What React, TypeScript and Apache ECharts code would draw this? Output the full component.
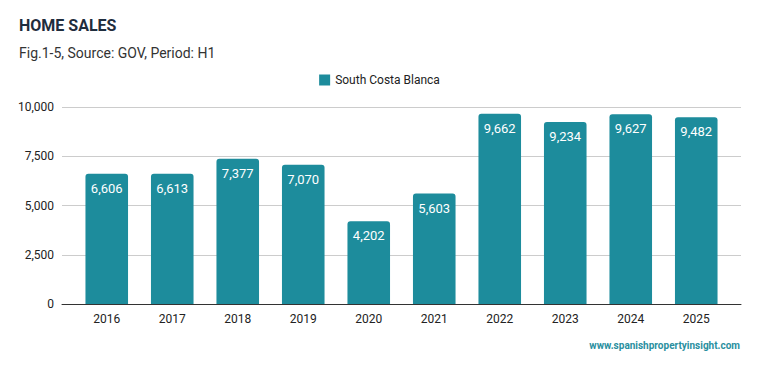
import React, { useEffect, useRef } from "react";
import * as echarts from "echarts";

const categories = ["2016", "2017", "2018", "2019", "2020", "2021", "2022", "2023", "2024", "2025"];
const salesValues = [6606, 6613, 7377, 7070, 4202, 5603, 9662, 9234, 9627, 9482];
const seriesName = "South Costa Blanca";
const titleText = "HOME SALES";
const subtitleText = "Fig.1-5, Source: GOV, Period: H1";
const watermarkText = "www.spanishpropertyinsight.com";

export default function App() {
  const ref = useRef<HTMLDivElement>(null);
  useEffect(() => {
    if (!ref.current) return;
    const chart = echarts.init(ref.current, null, { renderer: "svg" });
    const fmt = (v: number) => Number(v).toLocaleString("en-US");
    chart.setOption({
      animation: false,
      textStyle: { fontFamily: "Roboto" },
      title: [
        {
          text: titleText,
          left: 19,
          top: 17,
          padding: 0,
          textStyle: { fontFamily: "Roboto", fontSize: 16, fontWeight: "bold", color: "#1f2d3d" },
        },
        {
          text: subtitleText,
          left: 19,
          top: 46,
          padding: 0,
          textStyle: { fontFamily: "Roboto", fontSize: 14, fontWeight: "normal", color: "#333" },
        },
        {
          text: watermarkText,
          right: 19,
          top: 340,
          padding: 0,
          textStyle: { fontFamily: "Roboto", fontSize: 10, fontWeight: "bold", color: "#2a8fa0" },
        },
      ],
      legend: {
        top: 69,
        left: "center",
        itemWidth: 11,
        itemHeight: 11,
        itemGap: 10,
        icon: "rect",
        textStyle: { fontFamily: "Roboto", fontSize: 12, color: "#222" },
        data: [seriesName],
      },
      grid: [
        { left: 62, right: 18, top: 107, bottom: 67, containLabel: false },
        { left: 74, right: 30, top: 107, bottom: 67, containLabel: false },
      ],
      xAxis: [
        {
          type: "category",
          gridIndex: 0,
          data: categories,
          axisTick: { show: false },
          axisLabel: { show: false },
          axisLine: { lineStyle: { color: "#333", width: 1 } },
        },
        {
          type: "category",
          gridIndex: 1,
          data: categories,
          axisTick: { show: false },
          axisLine: { show: false },
          axisLabel: { fontFamily: "Roboto", fontSize: 12, color: "#222", margin: 9 },
        },
      ],
      yAxis: [
        {
          type: "value",
          gridIndex: 0,
          min: 0,
          max: 10000,
          interval: 2500,
          axisLine: { show: false },
          axisTick: { show: false },
          splitLine: { lineStyle: { color: "#ccc", width: 1 } },
          axisLabel: {
            fontFamily: "Roboto",
            fontSize: 12,
            color: "#222",
            margin: 8,
            formatter: fmt,
          },
        },
        {
          type: "value",
          gridIndex: 1,
          min: 0,
          max: 10000,
          interval: 2500,
          show: false,
          splitLine: { show: false },
        },
      ],
      series: [
        {
          name: seriesName,
          type: "bar",
          xAxisIndex: 1,
          yAxisIndex: 1,
          data: salesValues,
          barWidth: "65%",
          itemStyle: { color: "#1d8c9c", borderRadius: [3, 3, 0, 0] },
          label: {
            show: true,
            position: "insideTop",
            distance: 8,
            color: "#fff",
            fontFamily: "Roboto",
            fontSize: 13,
            formatter: (p: any) => fmt(p.value),
          },
        },
      ],
    });
    return () => chart.dispose();
  }, []);
  return <div ref={ref} style={{ width: 759, height: 371, position: "absolute", left: 0, top: 0 }} />;
}
